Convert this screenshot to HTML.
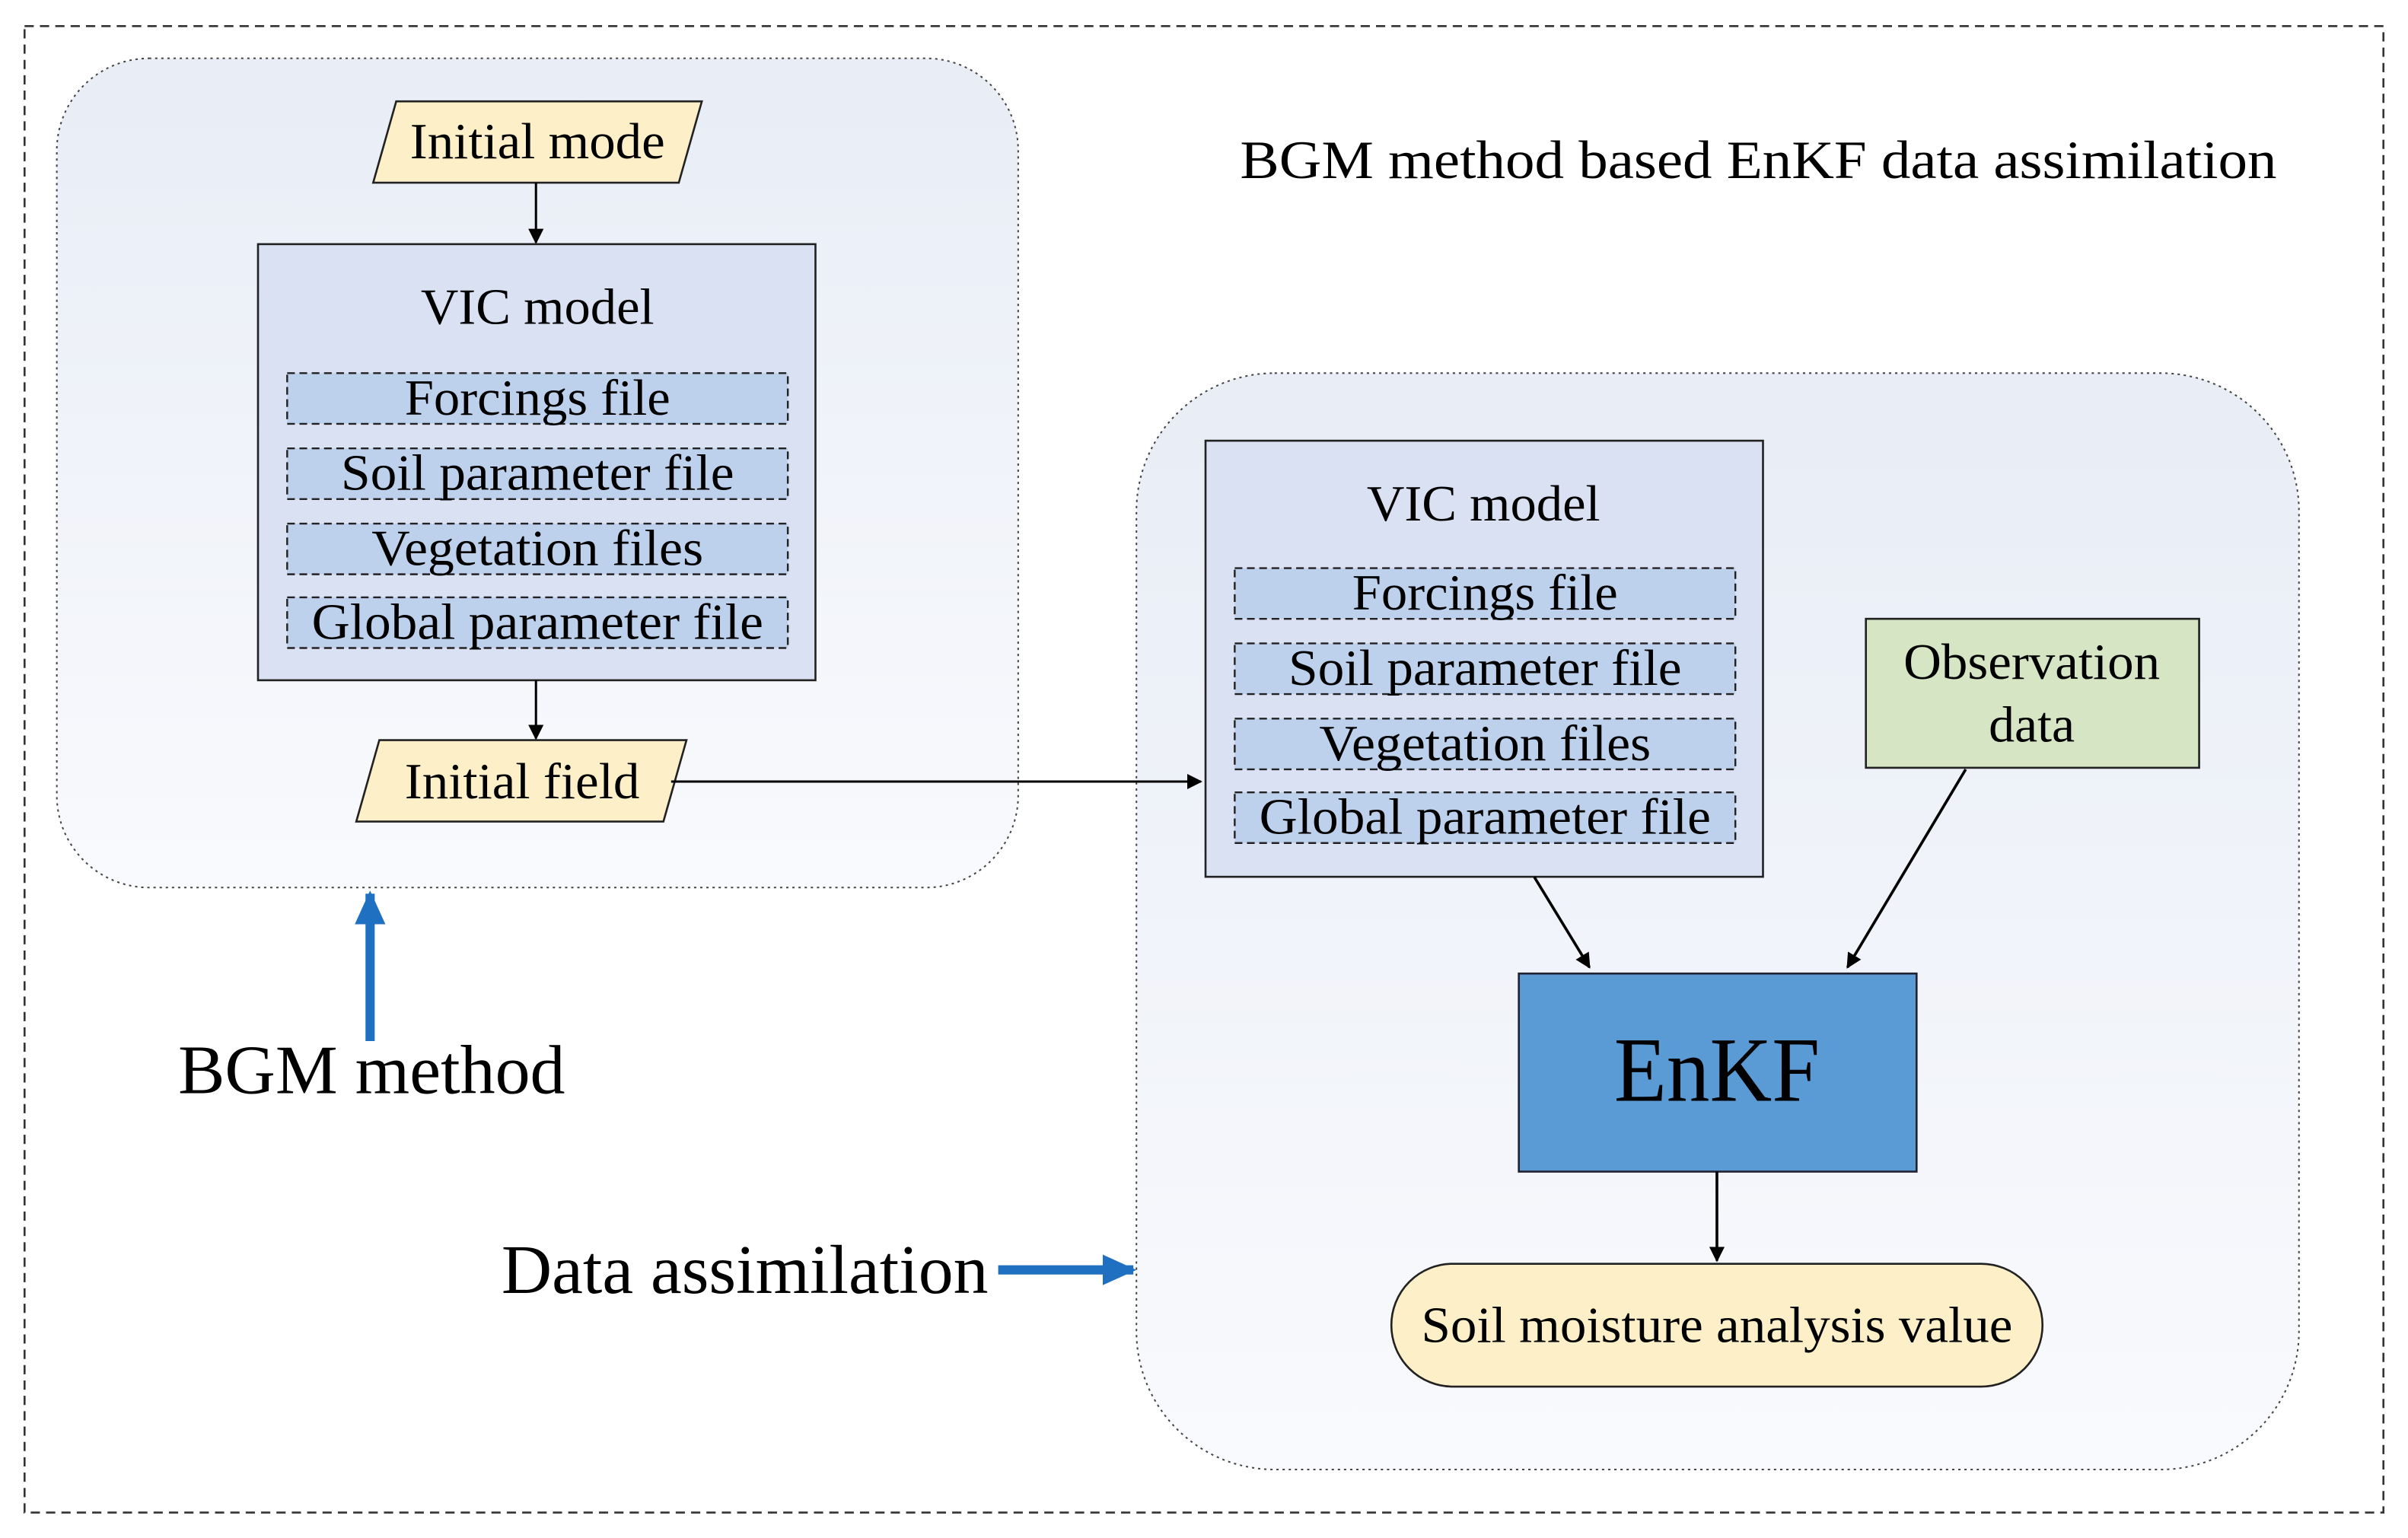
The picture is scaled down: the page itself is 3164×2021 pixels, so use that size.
<!DOCTYPE html>
<html><head><meta charset="utf-8"><style>html,body{margin:0;padding:0;background:#fff}svg{display:block}</style></head>
<body>
<svg width="3164" height="2021" viewBox="0 0 1568 1001.6" preserveAspectRatio="none" xmlns="http://www.w3.org/2000/svg" font-family="Liberation Serif, serif">
<defs>
<linearGradient id="g" x1="0" y1="0" x2="0" y2="1"><stop offset="0" stop-color="#e8edf6"/><stop offset="1" stop-color="#f9fafd"/></linearGradient>
<marker id="a" markerWidth="10" markerHeight="10" refX="9" refY="5" orient="auto" markerUnits="userSpaceOnUse"><path d="M0,0 L10,5 L0,10 z" fill="#000"/></marker>
<marker id="b" markerWidth="24" markerHeight="24" refX="20" refY="12" orient="auto" markerUnits="userSpaceOnUse"><path d="M0,2 L22,12 L0,22 z" fill="#1f70c1"/></marker>
</defs>
<rect x="16" y="17" width="1536" height="968" fill="#fff" stroke="#333" stroke-width="1.3" stroke-dasharray="6,4"/>
<rect x="37" y="38" width="626" height="540" rx="60" fill="url(#g)" stroke="#444" stroke-width="1" stroke-dasharray="1.5,2.5"/>
<rect x="740" y="243" width="757" height="714" rx="90" fill="url(#g)" stroke="#444" stroke-width="1" stroke-dasharray="1.5,2.5"/>
<text x="1145" y="116" font-size="35" text-anchor="middle" textLength="675" lengthAdjust="spacingAndGlyphs">BGM method based EnKF data assimilation</text>

<polygon points="258,66 457,66 442,119 243,119" fill="#fdf0c8" stroke="#222" stroke-width="1.3"/>
<text x="350" y="103" font-size="33" text-anchor="middle" textLength="166" lengthAdjust="spacingAndGlyphs">Initial mode</text>
<line x1="349" y1="119" x2="349" y2="158" stroke="#000" stroke-width="1.5" marker-end="url(#a)"/>
<rect x="168" y="159" width="363" height="284" fill="#d9e1f2" stroke="#222" stroke-width="1.3"/>
<rect x="785" y="287" width="363" height="284" fill="#d9e1f2" stroke="#222" stroke-width="1.3"/>
<g fill="#bdd0ec" stroke="#222" stroke-width="1.2" stroke-dasharray="5,3">
<rect x="187" y="243" width="326" height="33"/><rect x="187" y="292" width="326" height="33"/><rect x="187" y="341" width="326" height="33"/><rect x="187" y="389" width="326" height="33"/>
<rect x="804" y="370" width="326" height="33"/><rect x="804" y="419" width="326" height="33"/><rect x="804" y="468" width="326" height="33"/><rect x="804" y="516" width="326" height="33"/>
</g>
<g font-size="33" text-anchor="middle" lengthAdjust="spacingAndGlyphs">
<text x="350" y="211" textLength="152" lengthAdjust="spacingAndGlyphs">VIC model</text>
<text x="350" y="270" textLength="173" lengthAdjust="spacingAndGlyphs">Forcings file</text>
<text x="350" y="319" textLength="256" lengthAdjust="spacingAndGlyphs">Soil parameter file</text>
<text x="350" y="368" textLength="216" lengthAdjust="spacingAndGlyphs">Vegetation files</text>
<text x="350" y="416" textLength="294" lengthAdjust="spacingAndGlyphs">Global parameter file</text>
<text x="966" y="339" textLength="152" lengthAdjust="spacingAndGlyphs">VIC model</text>
<text x="967" y="397" textLength="173" lengthAdjust="spacingAndGlyphs">Forcings file</text>
<text x="967" y="446" textLength="256" lengthAdjust="spacingAndGlyphs">Soil parameter file</text>
<text x="967" y="495" textLength="216" lengthAdjust="spacingAndGlyphs">Vegetation files</text>
<text x="967" y="543" textLength="294" lengthAdjust="spacingAndGlyphs">Global parameter file</text>
</g>
<line x1="349" y1="443" x2="349" y2="481" stroke="#000" stroke-width="1.5" marker-end="url(#a)"/>
<polygon points="247,482 447,482 432,535 232,535" fill="#fdf0c8" stroke="#222" stroke-width="1.3"/>
<text x="340" y="520" font-size="33" text-anchor="middle" textLength="153" lengthAdjust="spacingAndGlyphs">Initial field</text>
<line x1="437" y1="509" x2="782" y2="509" stroke="#000" stroke-width="1.5" marker-end="url(#a)"/>

<rect x="1215" y="403" width="217" height="97" fill="#d6e6c4" stroke="#222" stroke-width="1.3"/>
<text x="1323" y="442" font-size="33" text-anchor="middle" textLength="167" lengthAdjust="spacingAndGlyphs">Observation</text>
<text x="1323" y="483" font-size="33" text-anchor="middle" textLength="56" lengthAdjust="spacingAndGlyphs">data</text>
<rect x="989" y="634" width="259" height="129" fill="#5b9bd5" stroke="#223" stroke-width="1.3"/>
<text x="1118" y="717" font-size="60" text-anchor="middle" textLength="134" lengthAdjust="spacingAndGlyphs">EnKF</text>
<line x1="999" y1="571" x2="1035" y2="630" stroke="#000" stroke-width="1.8" marker-end="url(#a)"/>
<line x1="1280" y1="501" x2="1203" y2="630" stroke="#000" stroke-width="1.8" marker-end="url(#a)"/>
<line x1="1118" y1="763" x2="1118" y2="821" stroke="#000" stroke-width="1.8" marker-end="url(#a)"/>
<rect x="906" y="823" width="424" height="80" rx="40" fill="#fdf0c8" stroke="#222" stroke-width="1.3"/>
<text x="1118" y="874" font-size="33" text-anchor="middle" textLength="385" lengthAdjust="spacingAndGlyphs">Soil moisture analysis value</text>

<line x1="241" y1="678" x2="241" y2="582" stroke="#1f70c1" stroke-width="6" marker-end="url(#b)"/>
<text x="242" y="712" font-size="45" text-anchor="middle" textLength="252" lengthAdjust="spacingAndGlyphs">BGM method</text>
<text x="485" y="842" font-size="45" text-anchor="middle" textLength="317" lengthAdjust="spacingAndGlyphs">Data assimilation</text>
<line x1="650" y1="827" x2="738" y2="827" stroke="#1f70c1" stroke-width="6" marker-end="url(#b)"/>
</svg>
</body></html>
